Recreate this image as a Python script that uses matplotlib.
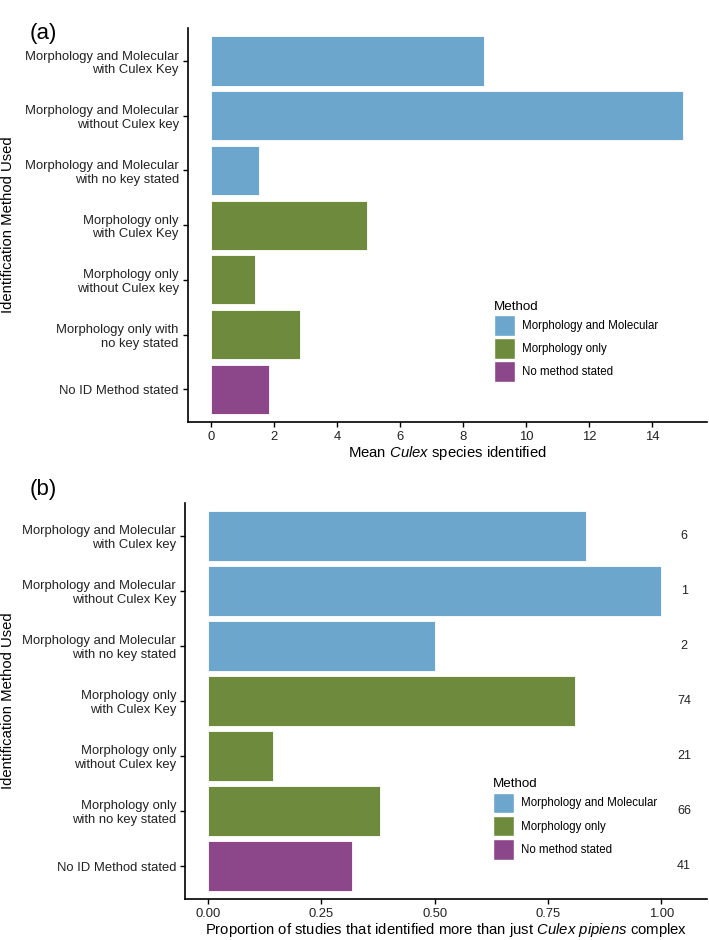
import matplotlib
matplotlib.use("Agg")
import matplotlib.pyplot as plt
from matplotlib.patches import Patch

plt.rcParams['font.family'] = ['Liberation Sans', 'DejaVu Sans']
plt.rcParams['mathtext.fontset'] = 'custom'
plt.rcParams['mathtext.it'] = 'Liberation Sans:italic'
plt.rcParams['mathtext.rm'] = 'Liberation Sans'

# panel (a) data
labels_a = ["Morphology and Molecular\nwith Culex Key",
            "Morphology and Molecular\nwithout Culex key",
            "Morphology and Molecular\nwith no key stated",
            "Morphology only\nwith Culex Key",
            "Morphology only\nwithout Culex key",
            "Morphology only with\nno key stated",
            "No ID Method stated"]
mean_species = [8.66, 15.0, 1.5, 4.95, 1.38, 2.83, 1.82]

# panel (b) data
labels_b = ["Morphology and Molecular\nwith Culex key",
            "Morphology and Molecular\nwithout Culex Key",
            "Morphology and Molecular\nwith no key stated",
            "Morphology only\nwith Culex Key",
            "Morphology only\nwithout Culex key",
            "Morphology only\nwith no key stated",
            "No ID Method stated"]
proportion = [0.833, 1.0, 0.5, 0.81, 0.143, 0.379, 0.317]
n_studies = [6, 1, 2, 74, 21, 66, 41]

methods = ["Morphology and Molecular", "Morphology and Molecular", "Morphology and Molecular",
           "Morphology only", "Morphology only", "Morphology only", "No method stated"]
method_colors = {"Morphology and Molecular": "#6CA6CD",
                 "Morphology only": "#6E8B3D",
                 "No method stated": "#8B4789"}

TICK_FS = 9.4
TITLE_FS = 10.7


def style_axes(ax):
    for s in ['top', 'right']:
        ax.spines[s].set_visible(False)
    for s in ['left', 'bottom']:
        ax.spines[s].set_linewidth(1.2)
    ax.tick_params(axis='both', length=3.5, width=1.0, labelsize=TICK_FS, colors='black',
                   labelcolor='#222222', pad=3)


def add_legend(ax, loc_xy):
    handles = [Patch(facecolor=c, edgecolor='white', label=m) for m, c in method_colors.items()]
    leg = ax.legend(handles=handles, title="Method", loc='upper left', bbox_to_anchor=loc_xy,
                    frameon=False, fontsize=8.3, title_fontsize=9.6, handlelength=1.85,
                    handleheight=2.4, labelspacing=0.2, handletextpad=0.6, borderpad=0,
                    borderaxespad=0)
    leg._legend_box.align = "left"


fig = plt.figure(figsize=(7.09, 9.40), dpi=100)

# ---- (a)
ax1 = fig.add_axes([0.265, 0.551, 0.732, 0.419])
ypos = list(range(len(labels_a)))
colors = [method_colors[m] for m in methods]
ax1.barh(ypos, mean_species, height=0.9, color=colors, edgecolor='white', linewidth=0.6)
ax1.set_yticks(ypos)
ax1.set_yticklabels(labels_a, ha='right')
ax1.set_ylim(len(labels_a) - 0.4, -0.6)
ax1.set_xlim(-0.75, 15.75)
ax1.set_xticks([0, 2, 4, 6, 8, 10, 12, 14])
ax1.set_xlabel(r"Mean $Culex$ species identified", fontsize=TITLE_FS, labelpad=1)
ax1.set_ylabel("Identification Method Used", fontsize=TITLE_FS)
style_axes(ax1)
ax1.yaxis.set_label_coords(-0.333, 0.5)
add_legend(ax1, (0.59, 0.308))
fig.text(0.042, 0.975, "(a)", fontsize=16, ha='left', va='top')

# ---- (b)
ax2 = fig.add_axes([0.261, 0.0436, 0.736, 0.4214])
ax2.barh(ypos, proportion, height=0.9, color=colors, edgecolor='white', linewidth=0.6)
for y, n in zip(ypos, n_studies):
    ax2.text(1.05, y, str(n), ha='center', va='center', fontsize=9, color='#222222')
ax2.set_yticks(ypos)
ax2.set_yticklabels(labels_b, ha='right')
ax2.set_ylim(len(labels_b) - 0.4, -0.6)
ax2.set_xlim(-0.05, 1.1)
ax2.set_xticks([0, 0.25, 0.5, 0.75, 1.0])
ax2.set_xticklabels(["0.00", "0.25", "0.50", "0.75", "1.00"])
ax2.set_xlabel(r"Proportion of studies that identified more than just $Culex\ pipiens$ complex",
               fontsize=TITLE_FS, labelpad=1)
ax2.set_ylabel("Identification Method Used", fontsize=TITLE_FS)
style_axes(ax2)
ax2.yaxis.set_label_coords(-0.326, 0.5)
add_legend(ax2, (0.59, 0.305))
fig.text(0.042, 0.49, "(b)", fontsize=16, ha='left', va='top')

fig.savefig("out.png", dpi=100)
